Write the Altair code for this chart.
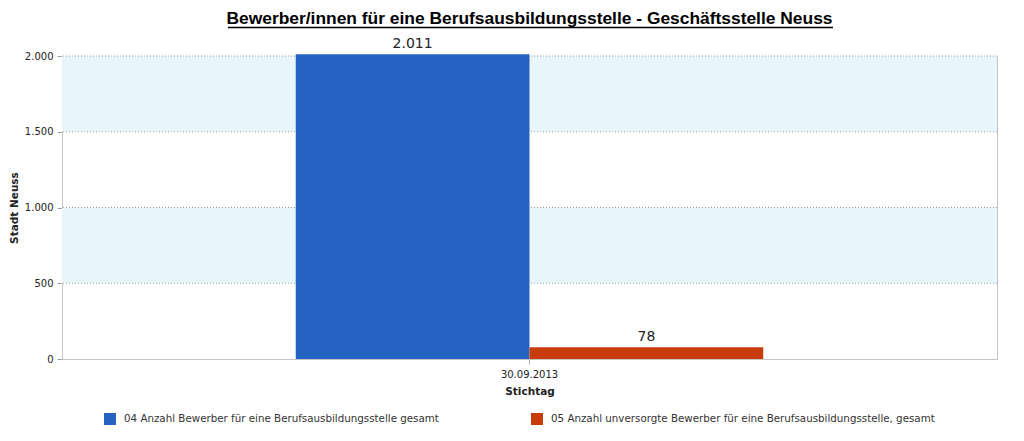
import altair as alt
import pandas as pd

categories = ["30.09.2013"]
series = [
    "04 Anzahl Bewerber für eine Berufsausbildungsstelle gesamt",
    "05 Anzahl unversorgte Bewerber für eine Berufsausbildungsstelle, gesamt",
]
values = [2011, 78]
value_labels = ["2.011", "78"]
y_ticks = [0, 500, 1000, 1500, 2000]
band_lo = [500, 1500]
band_hi = [1000, 2000]
colors = ["#2563c0", "#c83c0c"]

title_text = "Bewerber/innen für eine Berufsausbildungsstelle - Geschäftsstelle Neuss"

bars_df = pd.DataFrame({
    "Stichtag": [categories[0]] * len(series),
    "Serie": series,
    "Wert": values,
    "Label": value_labels,
})
bands_df = pd.DataFrame({"lo": band_lo, "hi": band_hi})
grid_df = pd.DataFrame({"v": y_ticks[1:]})

W, H = 935, 303
yscale = alt.Scale(domain=[0, 2000], nice=False)
FONT = "DejaVu Sans"

bands = alt.Chart(bands_df).mark_rect(color="#e8f6fb").encode(
    y=alt.Y("lo:Q", scale=yscale,
            axis=alt.Axis(orient="right", labels=False, ticks=False, grid=False,
                          title=None, domainColor="#c4c4c4")),
    y2="hi:Q",
)

grid = alt.Chart(grid_df).mark_rule(color="#9a9a9a", strokeDash=[1, 2], strokeWidth=1).encode(
    y=alt.Y("v:Q", scale=yscale, axis=None),
)

xenc = alt.X("Stichtag:N", scale=alt.Scale(paddingOuter=0.5, paddingInner=0),
             axis=alt.Axis(title="Stichtag", labelAngle=0, labelFont=FONT, labelFontSize=10,
                           labelColor="#222", titleFont=FONT, titleFontSize=10.5,
                           titleFontWeight="bold", titleColor="#222", domainColor="#c4c4c4",
                           tickColor="#b0b0b0", tickSize=5, labelPadding=5, titlePadding=7))
xoff = alt.XOffset("Serie:N", sort=series, scale=alt.Scale(paddingInner=0, paddingOuter=0))

bars = alt.Chart(bars_df).mark_bar(clip=False).encode(
    x=xenc,
    xOffset=xoff,
    y=alt.Y("Wert:Q", scale=yscale,
            axis=alt.Axis(values=y_ticks, grid=False, title="Stadt Neuss",
                          labelExpr="replace(format(datum.value, ','), ',', '.')",
                          labelFont=FONT, labelFontSize=10, labelColor="#222",
                          titleFont=FONT, titleFontSize=10.5, titleFontWeight="bold",
                          titleColor="#222", domainColor="#c4c4c4", tickColor="#a0a0a0",
                          tickSize=5, labelPadding=4, titlePadding=5)),
    color=alt.Color("Serie:N", sort=series,
                    scale=alt.Scale(domain=series, range=colors),
                    legend=alt.Legend(title=None, orient="none", direction="horizontal",
                                      legendX=42, legendY=357, symbolType="square",
                                      symbolSize=144, symbolStrokeWidth=0,
                                      labelFont=FONT, labelFontSize=10.3, labelColor="#333",
                                      labelLimit=600, columnPadding=92, labelOffset=8,
                                      padding=0)),
)

labels = alt.Chart(bars_df).mark_text(baseline="bottom", dy=-3, font=FONT,
                                      fontSize=14, color="#222").encode(
    x=alt.X("Stichtag:N"),
    xOffset=alt.XOffset("Serie:N", sort=series),
    y=alt.Y("Wert:Q", scale=yscale, axis=None),
    text="Label:N",
)

title = alt.Chart(alt.Data(values=[{"t": title_text}])).mark_text(
    font="Liberation Sans", fontSize=17.4, fontWeight="bold", color="#000",
    baseline="alphabetic", align="center",
).encode(x=alt.value(W / 2), y=alt.value(-32), text="t:N")

underline = alt.Chart(alt.Data(values=[{}])).mark_rule(color="#000", strokeWidth=1.5).encode(
    x=alt.value(166), x2=alt.value(771), y=alt.value(-28.5)
)

chart = alt.layer(bands, grid, bars, labels, title, underline).resolve_axis(
    y="independent"
).properties(
    width=W, height=H,
    autosize=alt.AutoSizeParams(type="none"),
    padding={"left": 54, "top": 48, "right": 19, "bottom": 74},
).configure_view(stroke=None).configure(background="white")

chart.save("out.html", embed_options={"renderer": "svg", "actions": False})
